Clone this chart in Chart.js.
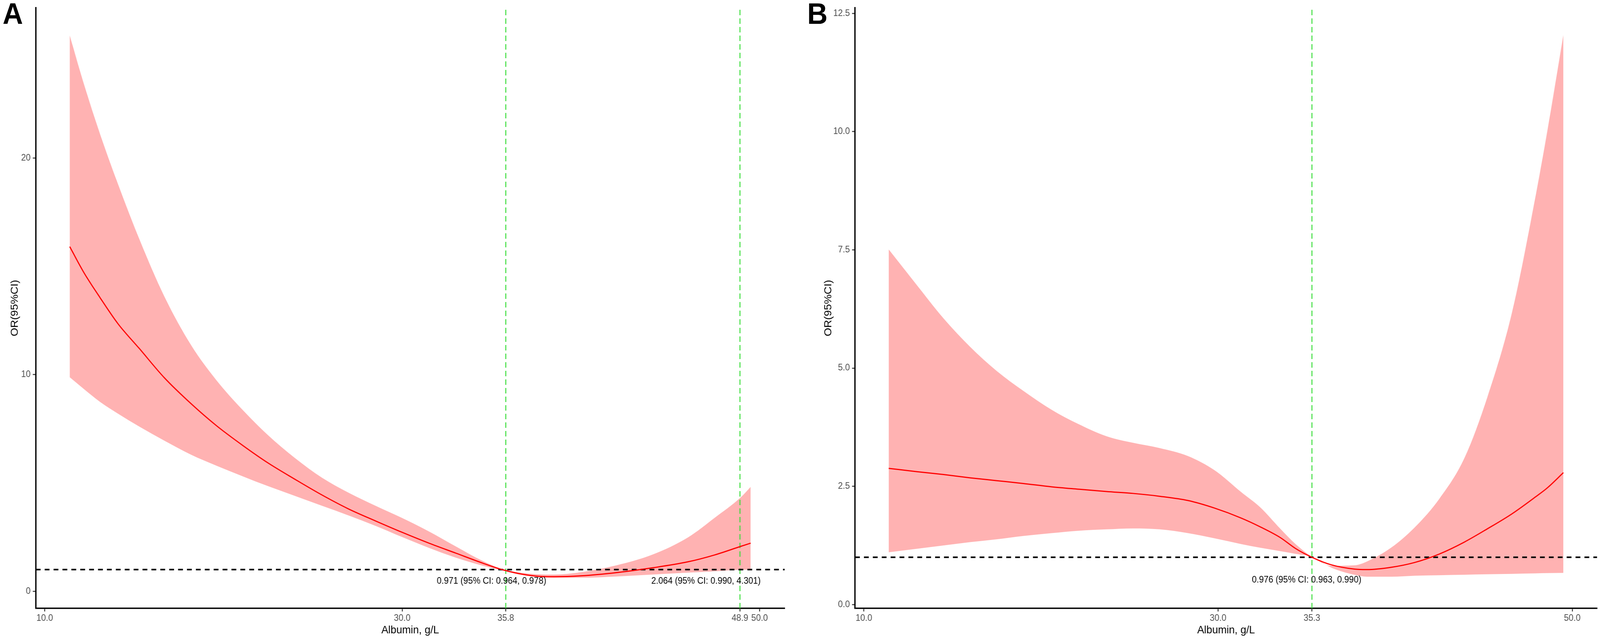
<!DOCTYPE html>
<html>
<head>
<meta charset="utf-8">
<script src="https://cdn.jsdelivr.net/npm/chart.js@4.4.1/dist/chart.umd.min.js"></script>
<style>
  html, body { margin: 0; padding: 0; background: #fff; overflow: hidden; }
  #stage { width: 4317px; height: 1638px; position: absolute; left: 0; top: 0; transform-origin: 0 0;
    font-family: "Liberation Sans", Arial, sans-serif; }
  .panel { position: absolute; top: 0; height: 1638px; }
  .tag { position: absolute; top: -3px; font-weight: bold; font-size: 76px; line-height: 76px; color: #000; }
</style>
</head>
<body>
<div id="stage">
  <div class="panel" style="left:0;width:2150px"><canvas id="chartA"></canvas></div>
  <div class="panel" style="left:2150px;width:2167px"><canvas id="chartB"></canvas></div>
  <div class="tag" style="left:7px">A</div>
  <div class="tag" style="left:2178px">B</div>
</div>

<script>
// Panel A: albumin vs OR with 95% CI
const albuminA = [11.4, 12.2, 13.1, 14.1, 15.3, 16.7, 18.2, 19.6, 21.1, 22.5, 24.0, 25.5, 27.0, 28.5, 30.0,
  31.5, 33.0, 34.5, 35.5, 36.5, 37.5, 38.5, 40.0, 42.0, 44.0, 46.0, 47.5, 48.9, 49.5];
const orA = [15.91, 14.7, 13.55, 12.35, 11.2, 9.85, 8.65, 7.65, 6.72, 5.92, 5.17, 4.45, 3.8, 3.25, 2.72,
  2.22, 1.76, 1.3, 1.02, 0.82, 0.7, 0.67, 0.71, 0.86, 1.08, 1.36, 1.68, 2.06, 2.22];
const upperA = [25.66, 23.4, 21.1, 18.8, 16.25, 13.6, 11.35, 9.75, 8.35, 7.2, 6.15, 5.25, 4.55, 3.95, 3.38,
  2.76, 2.07, 1.4, 1.05, 0.87, 0.79, 0.77, 0.88, 1.2, 1.69, 2.49, 3.4, 4.3, 4.82];
const lowerA = [9.88, 9.33, 8.74, 8.2, 7.6, 6.95, 6.3, 5.8, 5.3, 4.85, 4.4, 3.95, 3.5, 3.02, 2.5,
  2.0, 1.55, 1.18, 0.98, 0.78, 0.66, 0.62, 0.62, 0.68, 0.77, 0.86, 0.92, 0.99, 1.0];
const xTicksA = [10, 30, 35.8, 48.9, 50];
const yTicksA = [0, 10, 20];
const cutoffsA = [35.8, 48.9];
const notesA = ['0.971 (95% CI: 0.964, 0.978)', '2.064 (95% CI: 0.990, 4.301)'];
const notesAX = [35.0, 47.0];
const notesAY = [0.46, 0.46];

// Panel B
const albuminB = [11.4, 13.0, 14.5, 16.0, 17.5, 19.0, 20.6, 22.1, 23.7, 25.2, 26.7, 28.3, 29.8, 31.3, 32.4,
  33.5, 34.4, 35.3, 36.4, 37.7, 38.4, 39.8, 41.1, 42.5, 43.9, 45.2, 46.6, 47.9, 48.6, 49.5];
const orB = [2.88, 2.81, 2.75, 2.68, 2.62, 2.56, 2.49, 2.44, 2.39, 2.35, 2.29, 2.2, 2.04, 1.83, 1.64,
  1.42, 1.18, 1.0, 0.84, 0.75, 0.74, 0.79, 0.89, 1.07, 1.32, 1.6, 1.92, 2.27, 2.47, 2.79];
const upperB = [7.51, 6.75, 6.05, 5.45, 4.94, 4.52, 4.12, 3.82, 3.56, 3.42, 3.31, 3.14, 2.84, 2.38, 2.05,
  1.61, 1.27, 1.01, 0.82, 0.83, 0.91, 1.21, 1.63, 2.24, 3.09, 4.38, 6.18, 8.58, 10.03, 12.05];
const lowerB = [1.105, 1.18, 1.25, 1.32, 1.38, 1.45, 1.51, 1.56, 1.59, 1.61, 1.59, 1.51, 1.4, 1.28, 1.2,
  1.13, 1.07, 1.01, 0.78, 0.63, 0.59, 0.59, 0.61, 0.62, 0.63, 0.64, 0.65, 0.66, 0.665, 0.67];
const xTicksB = [10, 30, 35.3, 50];
const yTicksB = [0, 2.5, 5, 7.5, 10, 12.5];
const cutoffsB = [35.3];
const notesB = ['0.976 (95% CI: 0.963, 0.990)'];
const notesBX = [35.0];
const notesBY = [0.52];

const family = '"Liberation Sans", Arial, sans-serif';

// fit the 4317x1638 figure into whatever window we get
const stage = document.getElementById('stage');
const sx = (window.innerWidth || 4317) / 4317;
const sy = (window.innerHeight || 1638) / 1638;
if (Math.abs(sx - 1) > 0.002 || Math.abs(sy - 1) > 0.002) {
  stage.style.transform = 'scale(' + sx + ',' + sy + ')';
}

// text labels placed in data coordinates
const notePlugin = {
  id: 'notes',
  afterDatasetsDraw(chart, args, opts) {
    const { ctx, scales: { x, y } } = chart;
    ctx.save();
    ctx.font = '23px ' + family;
    ctx.fillStyle = '#000';
    ctx.textAlign = 'center';
    ctx.textBaseline = 'middle';
    opts.text.forEach((t, i) => {
      ctx.fillText(t, x.getPixelForValue(opts.x[i]), y.getPixelForValue(opts.y[i]));
    });
    ctx.restore();
  }
};

function pts(xs, ys) {
  return xs.map((x, i) => ({ x: x, y: ys[i] }));
}

function buildPanel(id, p) {
  const ctx = document.getElementById(id).getContext('2d');
  const noFill = 'rgba(0,0,0,0)';

  const datasets = [
    { data: pts(p.albumin, p.or), borderColor: '#FF0000', borderWidth: 3, pointRadius: 0,
      cubicInterpolationMode: 'monotone', fill: false },
    { data: [{ x: p.xMin, y: 1 }, { x: p.xMax, y: 1 }], borderColor: '#000', borderWidth: 4,
      borderDash: [13, 11], pointRadius: 0, fill: false },
  ];
  p.cutoffs.forEach(c => {
    datasets.push({ data: [{ x: c, y: p.yMin }, { x: c, y: p.yMax }], borderColor: '#33DD33',
      borderWidth: 2.5, borderDash: [14, 8], pointRadius: 0, fill: false });
  });
  datasets.push(
    { data: pts(p.albumin, p.upper), borderColor: noFill, borderWidth: 1, pointRadius: 0,
      backgroundColor: 'rgba(255,0,0,0.3)', cubicInterpolationMode: 'monotone', fill: '+1' },
    { data: pts(p.albumin, p.lower), borderColor: noFill, borderWidth: 1, pointRadius: 0,
      cubicInterpolationMode: 'monotone', fill: false }
  );

  return new Chart(ctx, {
    type: 'line',
    data: { datasets: datasets },
    plugins: [notePlugin],
    options: {
      responsive: true,
      maintainAspectRatio: false,
      devicePixelRatio: 1,
      animation: false,
      layout: { padding: { left: 0, top: p.top, right: p.right, bottom: 0 } },
      plugins: {
        legend: { display: false },
        tooltip: { enabled: false },
        notes: { text: p.notes, x: p.notesX, y: p.notesY },
      },
      scales: {
        x: {
          type: 'linear',
          min: p.xMin,
          max: p.xMax,
          afterBuildTicks: s => { s.ticks = p.xTicks.map(v => ({ value: v })); },
          afterFit: s => { s.height = 81; },
          ticks: {
            autoSkip: false, maxRotation: 0, minRotation: 0, padding: 4,
            color: '#4D4D4D', font: { size: 23, family: family },
            callback: v => Number(v).toFixed(1),
          },
          grid: { drawOnChartArea: false, drawTicks: true, tickLength: 8, tickColor: '#333333', tickWidth: 2.5 },
          border: { display: true, color: '#000', width: 3.5 },
          title: { display: true, text: 'Albumin, g/L', color: '#000',
            font: { size: 28, family: family }, padding: { top: 0, bottom: 8 } },
        },
        y: {
          type: 'linear',
          min: p.yMin,
          max: p.yMax,
          afterBuildTicks: s => { s.ticks = p.yTicks.map(v => ({ value: v })); },
          afterFit: s => { s.width = p.yAxisWidth; },
          ticks: {
            autoSkip: false, padding: 6,
            color: '#4D4D4D', font: { size: 23, family: family },
            callback: v => Number(v).toFixed(p.yDigits),
          },
          grid: { drawOnChartArea: false, drawTicks: true, tickLength: 8, tickColor: '#333333', tickWidth: 2.5 },
          border: { display: true, color: '#000', width: 3.5 },
          title: { display: true, text: 'OR(95%CI)', color: '#000',
            font: { size: 28, family: family }, padding: { top: p.yTitlePad, bottom: 0 } },
        },
      },
    },
  });
}

buildPanel('chartA', {
  albumin: albuminA, or: orA, upper: upperA, lower: lowerA,
  xTicks: xTicksA, yTicks: yTicksA, cutoffs: cutoffsA, yDigits: 0,
  notes: notesA, notesX: notesAX, notesY: notesAY,
  xMin: 9.5, xMax: 51.4, yMin: -0.79, yMax: 26.94,
  top: 7, right: 33, yAxisWidth: 96.5, yTitlePad: 23,
});

buildPanel('chartB', {
  albumin: albuminB, or: orB, upper: upperB, lower: lowerB,
  xTicks: xTicksB, yTicks: yTicksB, cutoffs: cutoffsB, yDigits: 1,
  notes: notesB, notesX: notesBX, notesY: notesBY,
  xMin: 9.5, xMax: 51.4, yMin: -0.08, yMax: 12.62,
  top: 8, right: 8, yAxisWidth: 157, yTitlePad: 68,
});
</script>
</body>
</html>
